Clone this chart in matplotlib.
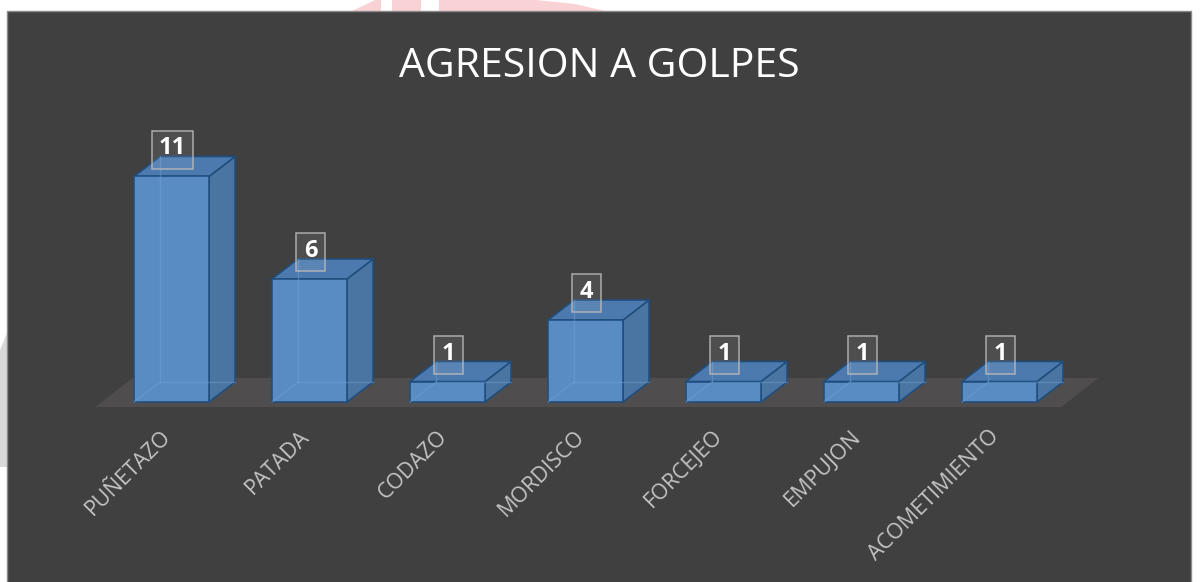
import matplotlib
matplotlib.use("Agg")
import matplotlib.pyplot as plt
from matplotlib.patches import Rectangle, Polygon
from matplotlib.transforms import Affine2D, ScaledTranslation

# ---- data ----
categories = ["PUÑETAZO", "PATADA", "CODAZO", "MORDISCO", "FORCEJEO", "EMPUJON", "ACOMETIMIENTO"]
values = [11, 6, 1, 4, 1, 1, 1]
title = "AGRESION A GOLPES"

plt.rcParams['font.family'] = ['Open Sans', 'DejaVu Sans']

W, H = 1201, 582
fig = plt.figure(figsize=(W / 100, H / 100), dpi=100)
fig.patch.set_facecolor("white")

# pixel transform for decoration (top-left origin)
pix = Affine2D().scale(1 / W, -1 / H).translate(0, 1) + fig.transFigure

# faint watermark decorations behind the chart
fig.add_artist(Polygon([(352, 11), (375, 0), (536, 0), (575, 4), (605, 11)], closed=True,
                       transform=pix, fc="#f9d2d6", ec="none", zorder=0))
fig.add_artist(Rectangle((381, 0), 11, 11, transform=pix, fc="white", ec="none", zorder=0.1))
fig.add_artist(Rectangle((421, 0), 18, 11, transform=pix, fc="white", ec="none", zorder=0.1))
fig.add_artist(Polygon([(0, 350), (7, 333), (7, 467), (0, 467)], closed=True,
                       transform=pix, fc="#d9d9d9", ec="none", zorder=0))

# chart area
fig.add_artist(Rectangle((7, 11), 1184, 575, transform=pix, fc="#404040",
                         ec="#8a8a8a", lw=1.0, zorder=1))

# plot axes: category i centred at 171.5 + 138 i px, value 0 at y=402 px, 20.5 px / unit
ax_left, ax_w = 102.5, 966.0
ax_bottom_px, unit_px = 402.0, 20.5
ymax = 12
ax = fig.add_axes([ax_left / W, (H - ax_bottom_px) / H, ax_w / W, ymax * unit_px / H], zorder=2)
ax.set_xlim(-0.5, len(categories) - 0.5)
ax.set_ylim(0, ymax)
ax.patch.set_visible(False)
for s in ax.spines.values():
    s.set_visible(False)
ax.set_yticks([])

px_x = (len(categories)) / ax_w   # data units per pixel (x)
px_y = 1.0 / unit_px               # data units per pixel (y)

# floor
fx0, fx1 = -0.5 - 7 * px_x, len(categories) - 0.5 - 7 * px_x
fy = -5 * px_y
ddx, ddy = 37 * px_x, 29 * px_y
ax.add_patch(Polygon([(fx0, fy), (fx1, fy), (fx1 + ddx, fy + ddy), (fx0 + ddx, fy + ddy)],
                     closed=True, fc="#4f4d4e", ec="none", clip_on=False, zorder=1))

# bars
bw = 75 * px_x
dx, dy = 26 * px_x, 20 * px_y
front_c, side_c, top_c, edge_c = "#5a8fc8", "#4a74a1", "#4c7aae", "#1f4e7d"
lw = 1.6 * 0.72
for i, v in enumerate(values):
    x0, x1 = i - bw / 2, i + bw / 2
    # hidden back edges seen through the translucent bar
    ax.plot([x0 + dx, x0 + dx], [dy, v + dy], color="#6fa3da", lw=1.0, alpha=0.45,
            clip_on=False, zorder=3)
    ax.plot([x0 + dx, x1 + dx], [dy, dy], color="#6fa3da", lw=1.0, alpha=0.45,
            clip_on=False, zorder=3)
    ax.plot([x0, x0 + dx], [0, dy], color="#6fa3da", lw=1.0, alpha=0.45,
            clip_on=False, zorder=3)
    ax.add_patch(Polygon([(x1, 0), (x1 + dx, dy), (x1 + dx, v + dy), (x1, v)], closed=True,
                         fc=side_c, ec=edge_c, lw=lw, joinstyle="round", clip_on=False, zorder=2))
    ax.add_patch(Polygon([(x0, v), (x1, v), (x1 + dx, v + dy), (x0 + dx, v + dy)], closed=True,
                         fc=top_c, ec=edge_c, lw=lw, joinstyle="round", clip_on=False, zorder=2))
    ax.add_patch(Rectangle((x0, 0), bw, v, fc=front_c, ec=edge_c, lw=lw, alpha=0.97,
                           clip_on=False, zorder=2.5))

# data labels
for i, v in enumerate(values):
    s = str(v)
    cx, cy = i + 1 * px_x, v + 27 * px_y
    bwid = (17 + 12 * len(s)) * px_x
    bh = 38 * px_y
    ax.add_patch(Rectangle((cx - bwid / 2, cy - bh / 2), bwid, bh, fc=(1, 1, 1, 0.08),
                           ec=(0.72, 0.72, 0.72, 0.9), lw=1.5 * 0.72, clip_on=False, zorder=5))
    ax.text(cx, cy + 1 * px_y, s, ha="center", va="center", color="white", fontsize=17,
            fontweight="bold", zorder=6, clip_on=False)

# category labels
ax.set_xticks(range(len(categories)))
ax.set_xticklabels(categories, rotation=45, ha="right", va="top", rotation_mode="anchor",
                   color="#c4c4c4", fontsize=15.5)
ax.tick_params(axis="x", length=0, pad=24 * 0.72)
shift = ScaledTranslation(-11 / 100, 0, fig.dpi_scale_trans)
for lab in ax.get_xticklabels():
    lab.set_transform(lab.get_transform() + shift)

# title
fig.text(599 / W, (H - 77) / H, title, ha="center", va="baseline", color="white",
         fontsize=29.5, zorder=3)

fig.savefig("out.png", dpi=100, facecolor=fig.get_facecolor())
